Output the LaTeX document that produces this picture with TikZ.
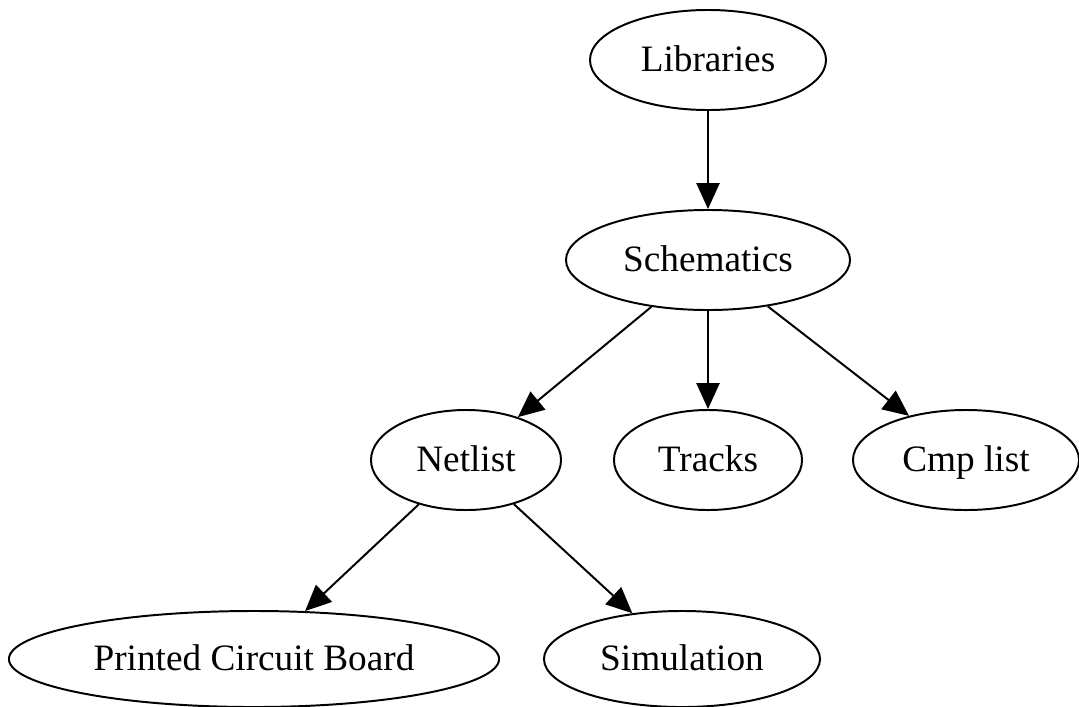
\documentclass[tikz,border=0pt]{standalone}
\usepackage{fontspec}
\setmainfont{Liberation Serif}
\usetikzlibrary{arrows.meta,shapes.geometric}
\tikzset{
  blob/.style={draw, ellipse, line width=1.4pt, inner sep=0pt, minimum height=2.5cm,
    text height=0.58cm, text depth=0cm, font=\fontsize{26.5}{30}\selectfont},
  flow/.style={line width=1.4pt, -{Triangle[width=0.58cm,length=0.65cm]}}
}
\begin{document}
\begin{tikzpicture}[x=0.025cm, y=-0.025cm]
  \useasboundingbox (0,0) rectangle (1079,706);
  \node[blob, minimum width=5.9cm] (lib) at (708,60) {Libraries};
  \node[blob, minimum width=7.1cm] (sch) at (708,260) {Schematics};
  \node[blob, minimum width=4.75cm] (net) at (466,460) {Netlist};
  \node[blob, minimum width=4.7cm] (trk) at (708,460) {Tracks};
  \node[blob, minimum width=5.65cm] (cmp) at (966,460) {Cmp list};
  \node[blob, minimum width=12.25cm, minimum height=2.4cm] (pcb) at (254,659) {Printed Circuit Board};
  \node[blob, minimum width=6.9cm, minimum height=2.4cm] (sim) at (682,659) {Simulation};
  % edges
  \draw[flow] (lib) -- (sch);
  \draw[flow] (sch) -- (net);
  \draw[flow] (sch) -- (trk);
  \draw[flow] (sch) -- (cmp);
  \draw[flow] (net) -- (pcb);
  \draw[flow] (net) -- (sim);
\end{tikzpicture}
\end{document}
